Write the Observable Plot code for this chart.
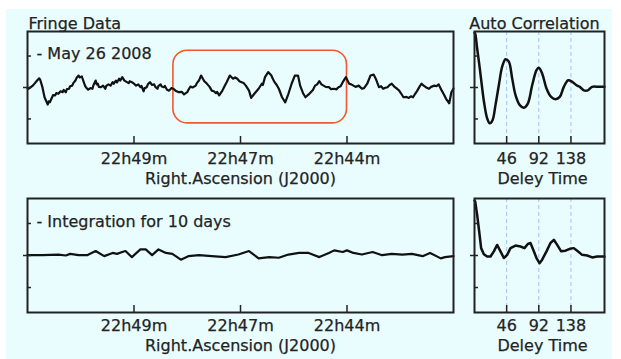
<!DOCTYPE html>
<html>
<head>
<meta charset="utf-8">
<script src="https://cdn.jsdelivr.net/npm/d3@7"></script>
<script src="https://cdn.jsdelivr.net/npm/@observablehq/plot@0.6"></script>
<style>
html, body { margin: 0; padding: 0; background: #fff; }
#page { position: relative; width: 621px; height: 359px; overflow: hidden; background: #fff; }
#bg { position: absolute; left: 6px; top: 9px; width: 606px; height: 350px; background: #e9fdff; }
#page svg { position: absolute; left: 0; top: 0; }
</style>
</head>
<body>
<div id="page"><div id="bg"></div></div>
<script>
// ---- data ----
const raTicks = [100, 200, 300];
const raTickLabels = ["22h49m", "22h47m", "22h44m"];
const lagTicks = [46, 92, 138];
const lagTickLabels = ["46", "92", "138"];
const ampTicks = [-1, 0, 1];

// fringe data, single night: [RA sample, amplitude]
const fringeDay = [[0,-0.03],[1,-0.04],[5,0.06],[7,0.14],[9,0.22],[11,0.29],[12,0.24],[14,0.01],[16,-0.31],[19,-0.54],[20,-0.44],[21,-0.47],[23,-0.32],[24,-0.24],[26,-0.25],[27,-0.18],[29,-0.20],[31,-0.12],[33,-0.15],[34,-0.08],[36,-0.15],[37,-0.05],[39,-0.04],[40,0.04],[42,0.06],[43,0.14],[45,0.22],[46,0.30],[48,0.38],[49,0.32],[51,0.35],[54,0.06],[55,0.00],[57,-0.07],[59,-0.02],[61,-0.04],[62,0.08],[64,0.22],[65,0.10],[66,0.12],[67,0.02],[69,0.01],[71,0.06],[73,-0.04],[74,0.05],[76,0.10],[78,0.06],[80,0.17],[81,0.12],[83,0.22],[84,0.16],[86,0.28],[87,0.22],[89,0.33],[91,0.22],[93,0.18],[95,0.14],[96,0.20],[98,0.17],[100,0.12],[102,0.06],[104,0.10],[106,0.01],[107,0.05],[109,-0.12],[110,-0.02],[112,0.01],[113,0.10],[115,0.17],[117,0.08],[119,0.10],[120,0.02],[122,-0.04],[123,0.05],[125,0.10],[126,0.03],[128,0.01],[129,0.05],[131,-0.07],[133,-0.10],[135,-0.02],[137,-0.04],[139,-0.10],[142,-0.15],[145,-0.14],[147,-0.22],[150,-0.15],[151,-0.08],[153,0.03],[155,0.00],[158,0.06],[159,0.14],[161,0.22],[163,0.38],[166,0.20],[168,0.14],[170,0.06],[171,0.02],[173,-0.10],[175,-0.12],[177,-0.18],[178,-0.14],[180,-0.25],[183,-0.10],[185,0.04],[187,0.17],[190,0.38],[193,0.28],[195,0.32],[197,0.28],[199,0.20],[201,0.17],[203,0.14],[205,0.06],[208,-0.10],[210,-0.33],[213,-0.20],[215,-0.12],[217,-0.04],[220,0.12],[221,0.08],[223,0.33],[226,0.49],[229,0.38],[230,0.30],[232,0.17],[234,0.08],[236,-0.04],[239,-0.31],[242,-0.47],[245,-0.20],[248,0.12],[251,0.38],[254,0.38],[256,0.06],[259,-0.20],[261,-0.31],[264,-0.22],[266,-0.15],[268,-0.08],[270,0.06],[272,0.10],[274,0.20],[276,0.10],[278,0.06],[280,0.02],[283,0.01],[285,-0.05],[288,-0.04],[290,-0.06],[292,0.01],[294,0.04],[296,0.17],[299,0.33],[302,0.12],[304,0.10],[306,0.06],[308,0.02],[311,0.06],[314,-0.04],[316,-0.02],[319,0.12],[322,0.38],[325,0.41],[327,0.28],[330,0.01],[332,0.04],[334,-0.04],[336,-0.01],[338,0.01],[340,0.08],[342,0.12],[345,0.01],[347,-0.04],[349,-0.10],[351,-0.20],[353,-0.31],[356,-0.30],[358,-0.33],[360,-0.28],[362,-0.31],[364,-0.20],[366,-0.10],[368,0.02],[370,0.12],[372,0.06],[374,0.01],[377,-0.04],[379,0.02],[382,0.06],[384,0.04],[386,0.10],[389,-0.10],[391,-0.22],[393,-0.36],[396,-0.50],[398,-0.15],[400,-0.03]];

// fringe data, integrated over 10 days
const fringeInt = [[0,0.01],[14,0.01],[29,0.03],[36,0],[40,0.05],[48,0.01],[56,0.01],[64,0.14],[72,-0.02],[80,0.08],[84,0.05],[89,0.11],[92,0.14],[98,-0.05],[106,0.19],[111,0.19],[117,0.01],[123,0.19],[130,0.08],[136,0.05],[144,-0.13],[151,-0.02],[161,0.01],[173,-0.02],[186,-0.05],[198,0.03],[208,0.14],[217,-0.09],[227,-0.05],[236,-0.07],[245,0.03],[255,0.08],[264,0.08],[274,-0.05],[283,0.08],[288,0.16],[296,0.11],[300,0.16],[306,0.08],[314,0.03],[324,0.11],[333,0.01],[342,0.05],[352,0.03],[361,0.05],[371,-0.02],[378,0.08],[388,-0.09],[392,-0.05],[400,-0.02]];

// auto correlation: [delay, value]
const acfDay = [[0,1.74],[1,1.71],[3.8,1.24],[7.6,0.60],[11,-0.03],[14.3,-0.56],[18.1,-0.98],[21.9,-1.14],[25.8,-1.04],[30,-0.56],[34.8,0.07],[39.6,0.66],[44.4,0.90],[49.1,0.82],[53.9,0.29],[58.7,-0.24],[64.8,-0.56],[70.6,-0.64],[76.3,-0.51],[82.5,0.07],[88.7,0.55],[92,0.63],[96.9,0.44],[103,-0.03],[109.7,-0.30],[115.9,-0.37],[122,-0.30],[127.8,0.02],[134.1,0.23],[139.8,0.18],[146,0.07],[150.7,0.02],[156.4,-0.09],[162.1,-0.09],[168.4,0.02],[177.9,0.02],[186,0.02]];
const acfInt = [[0,1.72],[1,1.69],[3.8,1.27],[6.7,0.75],[9.5,0.23],[13.4,0.04],[18.1,-0.03],[22.9,-0.03],[27.7,0.13],[32.4,0.33],[37.2,0.13],[42,-0.08],[46.7,0.02],[51.5,0.23],[58.7,0.31],[65.8,0.28],[71.5,0.23],[76.3,0.36],[80.1,0.39],[84.9,0.13],[88.7,-0.08],[93,-0.24],[96.8,-0.13],[103,0.13],[108.7,0.39],[113.5,0.49],[118.3,0.33],[124,0.13],[130.2,0.15],[136.4,0.21],[142.1,0.23],[147.8,0.13],[154,0.02],[161.2,0],[168.4,-0.06],[175.5,-0.03],[186,-0.03]];

// highlighted region on the single-night fringe
const highlight = [{ra1: 137, ra2: 300, amp1: -1.14, amp2: 1.17}];

const raDomain = [0, 400];
const lagDomain = [0, 186];
const ampDomain = [-1.78, 1.78];

// ---- drawing ----
const W = 621, H = 359;
const ink = "#222", txt = "#232323";

function panel(c) {
  const fw = c.right - c.left, fh = c.bottom - c.top;
  const marks = [];
  if (c.grid) marks.push(Plot.ruleX(c.ticks, {x: d => d, stroke: "#a9bdf2", strokeWidth: 1, strokeDasharray: "4,3"}));
  if (c.highlight) marks.push(Plot.rect(c.highlight, {x1: "ra1", x2: "ra2", y1: "amp1", y2: "amp2", rx: 14, fill: "none", stroke: "#f3572e", strokeWidth: 1.6}));
  marks.push(Plot.line(c.data, {x: d => d[0], y: d => d[1], stroke: "#111", strokeWidth: c.lineWidth || 2.3, strokeLinejoin: "round", curve: c.curve || "linear"}));
  marks.push(Plot.frame({stroke: ink, strokeWidth: 2}));
  marks.push(Plot.tickX(c.ticks, {x: d => d, insetTop: fh - 7, stroke: ink, strokeWidth: 1.5}));
  marks.push(Plot.tickY(ampTicks, {y: d => d, insetRight: fw - 4, stroke: ink, strokeWidth: 1.5}));
  marks.push(Plot.tickY([0], {y: d => d, insetLeft: -4, insetRight: fw, stroke: ink, strokeWidth: 1.5}));
  const t = {fill: txt, fontSize: 16, stroke: txt, strokeWidth: 0.25};
  marks.push(Plot.text(c.ticks, {x: d => d, text: (d, i) => c.tickLabels[i], frameAnchor: "bottom", dy: c.tickDy, letterSpacing: "0.5px", ...t}));
  marks.push(Plot.text([c.axisLabel], {text: d => d, frameAnchor: "bottom", dy: c.labelDy, dx: c.labelDx || 0, letterSpacing: "0.3px", ...t}));
  if (c.title) marks.push(Plot.text([c.title], {text: d => d, frameAnchor: c.titleAnchor, textAnchor: c.titleTextAnchor, dy: -14, dx: c.titleDx || 0, ...t}));
  if (c.note) marks.push(Plot.text([c.note], {text: d => d, frameAnchor: "top-left", textAnchor: "start", dx: 9, dy: c.noteDy, ...t}));
  return Plot.plot({
    width: W, height: H,
    marginLeft: c.left, marginRight: W - c.right, marginTop: c.top, marginBottom: H - c.bottom,
    x: {domain: c.xDomain, axis: null},
    y: {domain: ampDomain, axis: null},
    style: {background: "transparent", fontFamily: "'DejaVu Sans', sans-serif", fontSize: "16px", overflow: "visible"},
    marks
  });
}

const page = document.getElementById("page");
page.appendChild(panel({left: 27, right: 453, top: 31, bottom: 143, xDomain: raDomain, data: fringeDay, lineWidth: 2.2,
  ticks: raTicks, tickLabels: raTickLabels, tickDy: 20, axisLabel: "Right.Ascension (J2000)", labelDy: 40,
  title: "Fringe Data", titleAnchor: "top-left", titleTextAnchor: "start", titleDx: 1,
  note: "- May 26 2008", noteDy: 16, highlight}));
page.appendChild(panel({left: 474, right: 604, top: 31, bottom: 143, xDomain: lagDomain, data: acfDay, curve: "catmull-rom", lineWidth: 2.5,
  ticks: lagTicks, tickLabels: lagTickLabels, tickDy: 20, axisLabel: "Deley Time", labelDy: 40, labelDx: 3, grid: true,
  title: "Auto Correlation", titleAnchor: "top", titleTextAnchor: "middle", titleDx: -5}));
page.appendChild(panel({left: 27, right: 453, top: 198, bottom: 312, xDomain: raDomain, data: fringeInt, lineWidth: 2.2,
  ticks: raTicks, tickLabels: raTickLabels, tickDy: 18, axisLabel: "Right.Ascension (J2000)", labelDy: 38,
  note: "- Integration for 10 days", noteDy: 17.5}));
page.appendChild(panel({left: 474, right: 604, top: 198, bottom: 312, xDomain: lagDomain, data: acfInt, lineWidth: 2.5,
  ticks: lagTicks, tickLabels: lagTickLabels, tickDy: 18, axisLabel: "Deley Time", labelDy: 38, labelDx: 3, grid: true}));
</script>
</body>
</html>
